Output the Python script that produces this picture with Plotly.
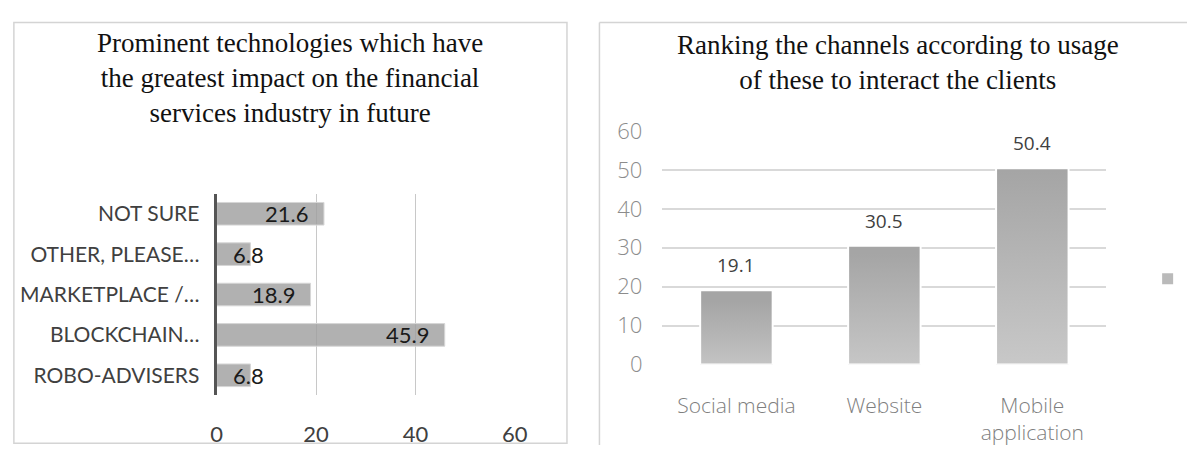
import plotly.graph_objects as go

# Left chart: technologies with the greatest future impact (horizontal bars)
tech_labels = ["ROBO-ADVISERS", "BLOCKCHAIN…", "MARKETPLACE /…", "OTHER, PLEASE…", "NOT SURE"]
tech_values = [6.8, 45.9, 18.9, 6.8, 21.6]
tech_ticks = [0, 20, 40, 60]

# Right chart: channels used to interact with clients (vertical bars)
channel_labels = ["Social media", "Website", "Mobile<br>application"]
channel_values = [19.1, 30.5, 50.4]
channel_ticks = [0, 10, 20, 30, 40, 50, 60]

W, H = 1200, 459


def px_x(p):
    return p / W


def px_y(p):
    return 1 - p / H


sans = "Lato, Roboto, sans-serif"
serif = "Liberation Serif, Times New Roman, serif"
light = "Open Sans, Segoe UI, sans-serif"

fig = go.Figure()

# ---- left panel ----
fig.add_trace(go.Bar(
    x=tech_values, y=tech_labels, orientation="h",
    xaxis="x", yaxis="y",
    marker=dict(color="rgba(160,160,160,0.82)",
                line=dict(color="#d6d6d6", width=1)),
    width=0.56, showlegend=False, hoverinfo="x+y",
))

annotations = []
for lab, v in zip(tech_labels, tech_values):
    fits = v >= 10
    annotations.append(dict(
        x=v, y=lab, xref="x", yref="y",
        text=f"{v:.1f}", showarrow=False,
        xanchor="right" if fits else "center",
        xshift=-14 if fits else -2,
        font=dict(family=sans, size=22, color="#1a1a1a"),
    ))

# ---- right panel: gradient-filled columns ----
half = 0.245
for i, v in enumerate(channel_values):
    fig.add_trace(go.Scatter(
        x=[i - half, i + half, i + half, i - half, i - half],
        y=[0, 0, v, v, 0],
        xaxis="x2", yaxis="y2",
        mode="lines", fill="toself",
        line=dict(color="white", width=2),
        fillgradient=dict(type="vertical", start=0, stop=v,
                          colorscale=[[0, "#cbcbcb"], [1, "#a5a5a5"]]),
        showlegend=False, hoverinfo="skip",
    ))
    annotations.append(dict(
        x=i, y=v, xref="x2", yref="y2", text=f"{v:.1f}",
        showarrow=False, yanchor="bottom", yshift=10,
        font=dict(family=light, size=19, color="#404040"),
    ))

# legend swatch for the (unnamed) series
fig.add_trace(go.Scatter(
    x=[None], y=[None], xaxis="x2", yaxis="y2", mode="markers",
    marker=dict(symbol="square", size=11, color="#bababa"),
    name="", showlegend=True,
))

# titles
annotations.append(dict(
    x=px_x(289), y=px_y(66), xref="paper", yref="paper",
    text="Prominent technologies which have<br>the greatest impact on the financial<br>services industry in future",
    showarrow=False, xanchor="center", yanchor="middle",
    font=dict(family=serif, size=27, color="#111111"),
))
annotations.append(dict(
    x=px_x(906), y=px_y(50), xref="paper", yref="paper",
    text="Ranking the channels according to usage<br>of these to interact the clients",
    showarrow=False, xanchor="center", yanchor="middle",
    font=dict(family=serif, size=27, color="#111111"),
))

# panel frames
shapes = [
    dict(type="rect", xref="paper", yref="paper",
         x0=px_x(8), x1=px_x(570), y0=px_y(457), y1=px_y(7),
         line=dict(color="#d4d4d4", width=1.5)),
    dict(type="line", xref="paper", yref="paper",
         x0=px_x(603), x1=px_x(603), y0=px_y(459), y1=px_y(7),
         line=dict(color="#d4d4d4", width=1.5)),
    dict(type="line", xref="paper", yref="paper",
         x0=px_x(603), x1=1, y0=px_y(7), y1=px_y(7),
         line=dict(color="#d4d4d4", width=1.5)),
]

fig.update_layout(
    width=W, height=H, margin=dict(l=0, r=0, t=0, b=0),
    paper_bgcolor="white", plot_bgcolor="white",
    xaxis=dict(domain=[px_x(214), px_x(517)], range=[0, 60],
               tickvals=tech_ticks, showgrid=True, gridcolor="#c8c8c8", gridwidth=1,
               zeroline=False, showline=False, ticks="",
               ticklabelstandoff=24,
               tickfont=dict(family=sans, size=22, color="#404040"),
               anchor="y"),
    yaxis=dict(domain=[px_y(406), px_y(190)], range=[-0.5, 4.5],
               type="category", showgrid=False, zeroline=False,
               showline=True, linecolor="#555555", linewidth=3,
               ticks="", ticklabelstandoff=10,
               tickfont=dict(family=sans, size=21, color="#404040"),
               anchor="x"),
    xaxis2=dict(domain=[px_x(667), px_x(1118)], range=[-0.5, 2.5],
                tickvals=list(range(len(channel_labels))), ticktext=channel_labels,
                showgrid=False, zeroline=False, showline=False, ticks="",
                ticklabelstandoff=26,
                tickfont=dict(family=light, size=21, color="#7f7f7f", weight=300),
                anchor="y2"),
    yaxis2=dict(domain=[px_y(373), px_y(123)], range=[0, 60],
                tickvals=channel_ticks, showgrid=True, gridcolor="#d9d9d9", gridwidth=1.5,
                zeroline=False, showline=False, ticks="",
                ticklabelstandoff=19,
                tickfont=dict(family=light, size=22, color="#8c8c8c", weight=300),
                anchor="x2"),
    legend=dict(x=px_x(1160), y=px_y(281), xanchor="left", yanchor="middle",
                bgcolor="rgba(0,0,0,0)", font=dict(size=12)),
    annotations=annotations, shapes=shapes,
)

fig.write_html("out.html")
